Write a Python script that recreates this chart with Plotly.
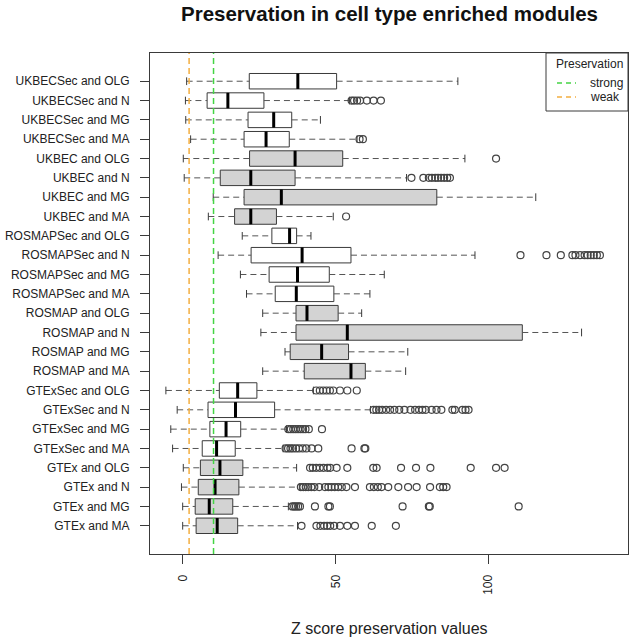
import plotly.graph_objects as go

# ---------------- data (top row first) ----------------
CATEGORIES = [
    "UKBECSec and OLG", "UKBECSec and N", "UKBECSec and MG", "UKBECSec and MA",
    "UKBEC and OLG", "UKBEC and N", "UKBEC and MG", "UKBEC and MA",
    "ROSMAPSec and OLG", "ROSMAPSec and N", "ROSMAPSec and MG", "ROSMAPSec and MA",
    "ROSMAP and OLG", "ROSMAP and N", "ROSMAP and MG", "ROSMAP and MA",
    "GTExSec and OLG", "GTExSec and N", "GTExSec and MG", "GTExSec and MA",
    "GTEx and OLG", "GTEx and N", "GTEx and MG", "GTEx and MA",
]
LOWER = [1.2, 0.8, 0.9, 2.5, 0.1, 0.4, 9.9, 8.3,
         19.4, 11.5, 18.8, 20.8, 26.1, 25.5, 33.4, 26.1,
         -5.6, -1.9, -4.0, -3.4, 0.1, -0.5, -0.1, -0.1]
Q1 = [21.7, 7.9, 21.3, 20.0, 21.8, 12.2, 20.0, 16.9,
      29.1, 22.3, 28.2, 30.2, 37.0, 37.0, 35.1, 39.7,
      11.9, 8.2, 8.8, 6.3, 5.7, 5.0, 4.0, 4.3]
MEDIAN = [37.6, 14.7, 29.7, 27.2, 36.7, 22.2, 32.2, 22.2,
          34.9, 39.0, 37.5, 37.1, 40.6, 53.8, 45.4, 55.0,
          17.9, 17.2, 14.1, 11.0, 12.1, 10.5, 8.6, 11.2]
Q3 = [50.3, 26.5, 35.6, 34.8, 52.3, 36.7, 83.1, 30.6,
      37.2, 55.0, 47.9, 49.4, 50.8, 111.1, 54.2, 59.7,
      24.2, 30.0, 18.9, 17.1, 19.6, 18.3, 16.3, 17.9]
UPPER = [90.0, 54.5, 45.0, 57.0, 92.3, 73.2, 115.5, 49.2,
         41.9, 95.6, 65.9, 61.2, 58.5, 130.5, 73.6, 72.9,
         42.7, 61.4, 33.9, 32.8, 37.2, 38.1, 34.5, 37.5]
OUTLIERS = [
    [],
    [55.2, 56.0, 57.0, 58.0, 60.2, 62.4, 64.8],
    [],
    [57.8, 58.9],
    [102.5],
    [74.8, 78.7, 80.5, 81.5, 82.6, 83.5, 84.5, 85.5, 86.5, 87.4],
    [],
    [53.4],
    [],
    [110.5, 119.0, 123.7, 127.5, 128.5, 130.0, 131.5, 132.5, 133.5, 134.5, 135.5, 136.5],
    [],
    [],
    [],
    [],
    [],
    [],
    [43.6, 44.8, 45.9, 47.0, 48.1, 49.2, 51.4, 53.8, 56.9],
    [62.4, 63.3, 64.2, 65.2, 66.5, 67.8, 69.2, 70.8, 72.5, 74.5, 76.0, 77.3,
     78.4, 79.5, 81.4, 83.0, 84.6, 88.2, 89.0, 91.5, 92.5, 93.5],
    [34.5, 35.3, 36.1, 36.9, 37.7, 38.5, 39.3, 40.1, 41.2, 45.5],
    [33.6, 34.4, 35.2, 36.0, 37.0, 38.0, 39.2, 40.4, 42.1, 44.3, 55.2, 59.4, 59.7],
    [41.6, 42.5, 43.6, 44.8, 46.0, 47.3, 48.2, 50.3, 53.8, 62.3, 63.4, 71.4,
     76.3, 81.0, 94.2, 102.5, 105.3],
    [38.6, 39.4, 40.2, 41.0, 42.0, 43.0, 44.6, 46.5, 47.6, 48.6, 49.7, 50.8,
     52.0, 53.5, 56.3, 61.2, 62.5, 63.8, 65.0, 67.2, 70.5, 73.7, 76.5, 80.9,
     84.1, 85.2, 86.3],
    [35.8, 36.4, 37.0, 37.7, 38.3, 43.2, 47.6, 48.1, 71.9, 80.5, 80.8, 109.9],
    [38.8, 43.7, 45.0, 46.2, 47.2, 48.2, 49.5, 51.4, 53.8, 56.3, 61.8, 69.7],
]
THRESHOLD_NAMES = ["strong", "weak"]
THRESHOLD_VALUES = [10, 2]
X_TICKS = [0, 50, 100]

# ---------------- styles ----------------
FONT = "Liberation Sans, Arial, sans-serif"
TEXT = "#222222"
EDGE = "#3a3a3a"
WHISK = "#555555"
GRAY = "#d3d3d3"
THR_COLORS = ["#44d444", "#f4ae40"]

W, H = 634, 641
ML, MR, MT, MB = 150, 6, 53, 87
PW, PH = W - ML - MR, H - MT - MB


def px_x(px):  # paper x from pixel
    return (px - ML) / PW


def px_y(py):  # paper y from pixel (top-left origin)
    return (H - MB - py) / PH


fig = go.Figure()

# threshold lines (drawn above boxes)
for val, col in zip(THRESHOLD_VALUES, THR_COLORS):
    fig.add_shape(type="line", xref="x", yref="paper", x0=val, x1=val, y0=0, y1=1,
                  line=dict(color=col, width=1.5, dash="6px,4px"), layer="above")

# dashed whiskers
wx, wy = [], []
for c, lo, a, b, hi in zip(CATEGORIES, LOWER, Q1, Q3, UPPER):
    wx += [lo, a, None, b, hi, None]
    wy += [c, c, None, c, c, None]
fig.add_trace(go.Scatter(x=wx, y=wy, mode="lines", showlegend=False, hoverinfo="skip",
                         line=dict(color=WHISK, width=1, dash="6px,4px")))
# staples
fig.add_trace(go.Scatter(x=LOWER + UPPER, y=CATEGORIES + CATEGORIES, mode="markers",
                         showlegend=False, hoverinfo="skip",
                         marker=dict(symbol="line-ns", size=5.5, color=EDGE,
                                     line=dict(color=EDGE, width=1))))

# boxes: white for "Sec" groups, gray otherwise
for is_sec, fill in [(True, "white"), (False, GRAY)]:
    idx = [i for i, c in enumerate(CATEGORIES) if ("Sec" in c) == is_sec]
    fig.add_trace(go.Box(
        orientation="h",
        y=[CATEGORIES[i] for i in idx],
        q1=[Q1[i] for i in idx],
        median=[MEDIAN[i] for i in idx],
        q3=[Q3[i] for i in idx],
        lowerfence=[Q1[i] for i in idx],
        upperfence=[Q3[i] for i in idx],
        fillcolor=fill, line=dict(color=EDGE, width=1),
        width=0.8, whiskerwidth=0, boxpoints=False,
        showlegend=False, hoverinfo="skip",
    ))

# thick medians
fig.add_trace(go.Scatter(x=MEDIAN, y=CATEGORIES, mode="markers", showlegend=False,
                         hoverinfo="skip",
                         marker=dict(symbol="line-ns", size=11, color="black",
                                     line=dict(color="black", width=3))))

# outliers
ox, oy = [], []
for c, outs in zip(CATEGORIES, OUTLIERS):
    ox += outs
    oy += [c] * len(outs)
fig.add_trace(go.Scatter(x=ox, y=oy, mode="markers", showlegend=False, hoverinfo="skip",
                         marker=dict(symbol="circle-open", size=7, color="#444444",
                                     line=dict(width=1.2))))

# ---- legend box (R-style, inside top-right corner) ----
shapes_leg = [dict(type="rect", xref="paper", yref="paper",
                   x0=px_x(546), x1=1, y0=px_y(111), y1=1,
                   line=dict(color=EDGE, width=1), fillcolor="white", layer="above")]
ann = [dict(text="Preservation", xref="paper", yref="paper", x=px_x(554), y=px_y(64),
            xanchor="left", yanchor="middle", showarrow=False,
            font=dict(size=12, color=TEXT))]
for k, (name, col) in enumerate(zip(THRESHOLD_NAMES, THR_COLORS)):
    yy = 83 + 14 * k
    shapes_leg.append(dict(type="line", xref="paper", yref="paper",
                           x0=px_x(557), x1=px_x(576), y0=px_y(yy), y1=px_y(yy),
                           line=dict(color=col, width=1.5, dash="5px,4px"), layer="above"))
    ann.append(dict(text=name, xref="paper", yref="paper", x=px_x(588), y=px_y(yy),
                    xanchor="left", yanchor="middle", showarrow=False,
                    font=dict(size=12, color=TEXT)))
for s in shapes_leg:
    fig.add_shape(**s)

ann.append(dict(text="Z score preservation values", xref="paper", yref="paper",
                x=0.5, y=px_y(628), xanchor="center", yanchor="middle",
                showarrow=False, font=dict(size=16, color=TEXT)))
ann.append(dict(text="<b>Preservation in cell type enriched modules</b>",
                xref="paper", yref="paper", x=0.5, y=px_y(14),
                xanchor="center", yanchor="middle", showarrow=False,
                font=dict(size=20.5, color="#111111")))

n = len(CATEGORIES)
fig.update_layout(
    width=W, height=H,
    margin=dict(l=ML, r=MR, t=MT, b=MB, autoexpand=False),
    plot_bgcolor="white", paper_bgcolor="white",
    font=dict(family=FONT, size=12, color=TEXT),
    boxmode="overlay",
    showlegend=False,
    xaxis=dict(range=[-10.8, 145.7], tickvals=X_TICKS, ticktext=[str(v) for v in X_TICKS],
               tickangle=-90, ticks="outside", ticklen=9, tickcolor=EDGE,
               showline=True, mirror=True, linecolor=EDGE, linewidth=1,
               showgrid=False, zeroline=False, tickfont=dict(size=12),
               automargin=False, ticklabelstandoff=6),
    yaxis=dict(type="category", categoryorder="array", categoryarray=CATEGORIES,
               range=[n - 1 + 1.46, -1.46],
               ticks="outside", ticklen=9, tickcolor=EDGE,
               showline=True, mirror=True, linecolor=EDGE, linewidth=1,
               showgrid=False, zeroline=False, tickfont=dict(size=12),
               automargin=False, ticklabelstandoff=8),
    annotations=ann,
)

fig.write_html("out.html", config={"displayModeBar": False},
               post_script="document.body.style.margin='0';document.body.style.overflow='hidden';")
